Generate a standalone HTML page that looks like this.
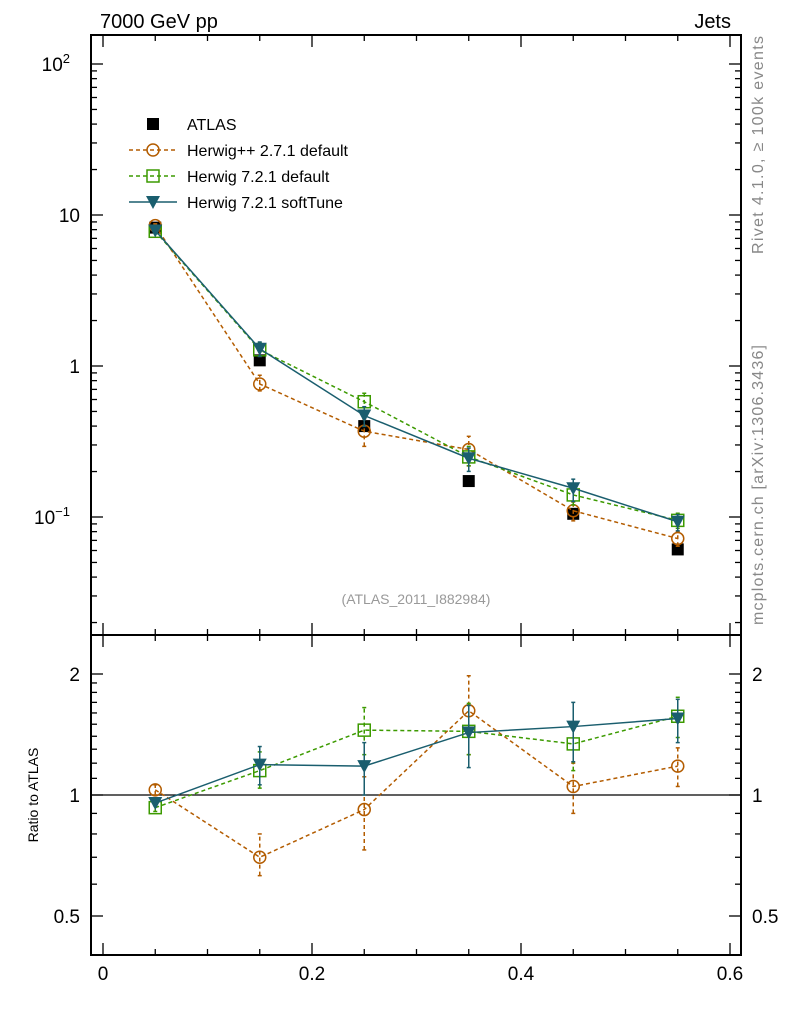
<!DOCTYPE html>
<html><head><meta charset="utf-8"><style>
body{margin:0;background:#fff}
svg{font-family:"Liberation Sans",sans-serif}
</style></head><body>
<svg id="c" width="786" height="1024" viewBox="0 0 786 1024" xmlns="http://www.w3.org/2000/svg"></svg>
<script>
const xCenters=[0.05,0.15,0.25,0.35,0.45,0.55];
const atlasVals=[8.25,1.09,0.40,0.173,0.105,0.061];
const hppVals=[8.5,0.76,0.37,0.28,0.11,0.072];
const h7Vals=[7.8,1.28,0.58,0.25,0.14,0.095];
const stVals=[7.9,1.3,0.47,0.245,0.155,0.093];
const hppRatio=[1.03,0.70,0.92,1.62,1.05,1.18];
const hppLo=[1.0,0.63,0.73,1.26,0.90,1.05];
const hppHi=[1.06,0.80,1.11,1.98,1.20,1.31];
const h7Ratio=[0.93,1.15,1.45,1.44,1.34,1.57];
const h7Lo=[0.91,1.04,1.26,1.26,1.15,1.39];
const h7Hi=[0.95,1.28,1.65,1.69,1.52,1.75];
const stRatio=[0.955,1.19,1.18,1.43,1.48,1.55];
const stLo=[0.94,1.06,1.0,1.17,1.21,1.35];
const stHi=[0.97,1.32,1.35,1.67,1.70,1.73];
const xTicks=[0,0.2,0.4,0.6];
const xTickLabels=["0","0.2","0.4","0.6"];

const svg=document.getElementById('c');
const NS="http://www.w3.org/2000/svg";
function el(t,a,p){const e=document.createElementNS(NS,t);for(const k in a)e.setAttribute(k,a[k]);(p||svg).appendChild(e);return e;}
const L=91,R=741,T=35,M=635,B=955;
const X=v=>103+v*1045;
const Y=v=>215-151*(Math.log10(v)-1);
const YR=v=>795-121*Math.log2(v);
const cHpp="#b35c00",cH7="#3c9a00",cSt="#1a5e6e";

let f1=el('rect',{x:L,y:T,width:R-L,height:M-T,fill:'none',stroke:'#000','stroke-width':2});

let f2=el('rect',{x:L,y:M,width:R-L,height:B-M,fill:'none',stroke:'#000','stroke-width':2});


const gx=el('g',{stroke:'#000','stroke-width':1.3});

for(let i=0;i<=12;i++){const v=i*0.05,x=X(v);if(x>R)break;const maj=(i%4==0);const len=maj?12:6;
 [[T,T+len],[M,M-len],[M,M+len],[B,B-len]].forEach(a=>el('line',{x1:x,x2:x,y1:a[0],y2:a[1]},gx));}
xTicks.forEach((v,i)=>{const t=el('text',{x:X(v),y:980,'font-size':19,'text-anchor':'middle'});t.textContent=xTickLabels[i];
 });

const gy=el('g',{stroke:'#000','stroke-width':1.3});

for(let e=-2;e<=2;e++)for(let m=1;m<10;m++){const v=m*Math.pow(10,e),y=Y(v);if(y<T||y>M)continue;const len=m==1?12:6;
 el('line',{x1:L,x2:L+len,y1:y,y2:y},gy);el('line',{x1:R,x2:R-len,y1:y,y2:y},gy);}
[[100,'10','2'],[10,'10',''],[1,'1',''],[0.1,'10','−1']].forEach(a=>{const t=el('text',{x:a[2]?70:80,y:Y(a[0])+7,'font-size':19,'text-anchor':'end'});
 t.textContent=a[1];if(a[2]){const s=el('tspan',{dy:-8,'font-size':13},t);s.textContent=a[2];}
 });
const ry=el('g',{stroke:'#000','stroke-width':1.3});

[0.4,0.5,0.6,0.7,0.8,0.9,1,2].forEach(v=>{const y=YR(v);const len=(v==0.5||v==1||v==2)?12:6;el('line',{x1:L,x2:L+len,y1:y,y2:y},ry);el('line',{x1:R,x2:R-len,y1:y,y2:y},ry);});
for(let v=1.1;v<2;v+=0.1){const y=YR(v);el('line',{x1:L,x2:L+6,y1:y,y2:y},ry);el('line',{x1:R,x2:R-6,y1:y,y2:y},ry);}
[[2,'2'],[1,'1'],[0.5,'0.5']].forEach(a=>{[[80,'end'],[752,'start']].forEach(p=>{const t=el('text',{x:p[0],y:YR(a[0])+7,'font-size':19,'text-anchor':p[1]});t.textContent=a[1];
 });});
let ref=el('line',{x1:L,x2:R,y1:YR(1),y2:YR(1),stroke:'#000','stroke-width':1.3});


function marker(g,type,x,y,col){
 if(type=='sq')el('rect',{x:x-6,y:y-6,width:12,height:12,fill:'#000'},g);
 if(type=='circ')el('circle',{cx:x,cy:y,r:6,fill:'none',stroke:col,'stroke-width':1.5},g);
 if(type=='osq')el('rect',{x:x-6,y:y-6,width:12,height:12,fill:'none',stroke:col,'stroke-width':1.5},g);
 if(type=='tri')el('path',{d:`M${x-7} ${y-6}L${x+7} ${y-6}L${x} ${y+7}Z`,fill:col},g);
}
function series(name,vals,lo,hi,ratio,yf,col,dash,type,useRatio){
 const g=el('g',{});
 const ys=xCenters.map((x,i)=>yf(vals[i]));
 xCenters.forEach((x,i)=>{if(lo){const y1=yf(useRatio?lo[i]:vals[i]*lo[i]/ratio[i]),y2=yf(useRatio?hi[i]:vals[i]*hi[i]/ratio[i]);
  el('line',{x1:X(x),x2:X(x),y1:y1,y2:y2,stroke:col,'stroke-width':1.5,'stroke-dasharray':dash||''},g);
  el('line',{x1:X(x)-2,x2:X(x)+2,y1:y1,y2:y1,stroke:col,'stroke-width':1.5},g);el('line',{x1:X(x)-2,x2:X(x)+2,y1:y2,y2:y2,stroke:col,'stroke-width':1.5},g);}});
 if(type!='sq')el('polyline',{points:xCenters.map((x,i)=>X(x)+','+ys[i]).join(' '),fill:'none',stroke:col,'stroke-width':1.5,'stroke-dasharray':dash||''},g);
 xCenters.forEach((x,i)=>marker(g,type,X(x),ys[i],col));
}
series('atlas-data',atlasVals,null,null,null,Y,'#000','','sq');
series('herwigpp-271-main',hppVals,hppLo,hppHi,hppRatio,Y,cHpp,'4,3','circ');
series('herwig721-default-main',h7Vals,h7Lo,h7Hi,h7Ratio,Y,cH7,'4,3','osq');
series('herwig721-softtune-main',stVals,stLo,stHi,stRatio,Y,cSt,'','tri');
series('herwigpp-271-ratio',hppRatio,hppLo,hppHi,hppRatio,YR,cHpp,'4,3','circ',true);
series('herwig721-default-ratio',h7Ratio,h7Lo,h7Hi,h7Ratio,YR,cH7,'4,3','osq',true);
series('herwig721-softtune-ratio',stRatio,stLo,stHi,stRatio,YR,cSt,'','tri',true);

const lg=el('g',{});
const leg=[['ATLAS','sq','#000',''],['Herwig++ 2.7.1 default','circ',cHpp,'4,3'],['Herwig 7.2.1 default','osq',cH7,'4,3'],['Herwig 7.2.1 softTune','tri',cSt,'']];
leg.forEach((e,i)=>{const y=124+i*26;const g=el('g',{},lg);
 if(e[1]!='sq')el('line',{x1:129,x2:177,y1:y,y2:y,stroke:e[2],'stroke-width':1.5,'stroke-dasharray':e[3]},g);
 marker(g,e[1],153,y,e[2]);const t=el('text',{x:187,y:y+6,'font-size':16},g);t.textContent=e[0];});

function txt(name,s,a){const t=el('text',a);t.textContent=s;return t;}
txt('title-left','7000 GeV pp',{x:100,y:28,'font-size':20});
txt('title-right','Jets',{x:731,y:28,'font-size':20,'text-anchor':'end'});
txt('analysis-id','(ATLAS_2011_I882984)',{x:416,y:604,'font-size':14,fill:'#999','text-anchor':'middle'});
txt('ratio-y-title','Ratio to ATLAS',{x:38,y:795,'font-size':14,'text-anchor':'middle',transform:'rotate(-90 38 795)'});
txt('rivet-label','Rivet 4.1.0, ≥ 100k events',{x:763,y:145,'font-size':16,fill:'#888','text-anchor':'middle',textLength:218,transform:'rotate(-90 763 145)'});
txt('mcplots-label','mcplots.cern.ch [arXiv:1306.3436]',{x:763,y:485,'font-size':16,fill:'#888','text-anchor':'middle',textLength:280,transform:'rotate(-90 763 485)'});
</script>
</body></html>
